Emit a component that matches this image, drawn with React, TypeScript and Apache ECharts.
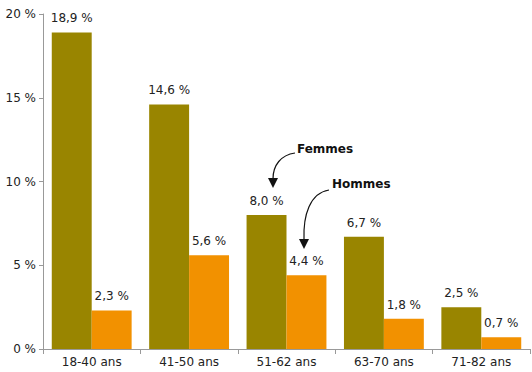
import React, { useEffect, useRef } from "react";
import * as echarts from "echarts";

const categories = ["18-40 ans", "41-50 ans", "51-62 ans", "63-70 ans", "71-82 ans"];
const femmes = [18.9, 14.6, 8.0, 6.7, 2.5];
const hommes = [2.3, 5.6, 4.4, 1.8, 0.7];
const yTicks = { min: 0, max: 20, interval: 5 };

const FONT = "DejaVu Sans";
const fmt = (v: number) => v.toFixed(1).replace(".", ",") + " %";

export default function App() {
  const ref = useRef<HTMLDivElement>(null);
  useEffect(() => {
    document.body.style.margin = "0";
    const chart = echarts.init(ref.current!, null, { renderer: "svg" });
    const labelStyle = {
      show: true,
      position: "top" as const,
      distance: 8,
      color: "#222",
      fontSize: 12,
      fontFamily: FONT,
      formatter: (p: any) => fmt(p.value),
    };
    chart.setOption({
      animation: false,
      textStyle: { fontFamily: FONT },
      grid: { left: 43, right: 2, top: 14, bottom: 23 },
      xAxis: {
        type: "category",
        data: categories,
        axisLine: { lineStyle: { color: "#999" } },
        axisTick: { show: true, length: 5, lineStyle: { color: "#999" } },
        axisLabel: { color: "#222", fontSize: 12, fontFamily: FONT, margin: 7 },
      },
      yAxis: {
        type: "value",
        min: yTicks.min,
        max: yTicks.max,
        interval: yTicks.interval,
        axisLine: { show: true, lineStyle: { color: "#999" } },
        axisTick: { show: true, length: 4, lineStyle: { color: "#999" } },
        splitLine: { show: false },
        axisLabel: { color: "#222", fontSize: 12, fontFamily: FONT, margin: 7, formatter: "{value} %" },
      },
      series: [
        {
          name: "Femmes",
          type: "bar",
          data: femmes,
          barGap: "0%",
          barCategoryGap: "18%",
          itemStyle: { color: "#998500" },
          label: labelStyle,
        },
        {
          name: "Hommes",
          type: "bar",
          data: hommes,
          itemStyle: { color: "#F29100" },
          label: labelStyle,
        },
      ],
      graphic: [
        {
          type: "text",
          left: 297,
          top: 143,
          style: { text: "Femmes", fill: "#111", font: `bold 12px "${FONT}"` },
        },
        {
          type: "bezierCurve",
          shape: { x1: 295, y1: 153, x2: 273, y2: 179, cpx1: 281, cpy1: 155, cpx2: 273, cpy2: 165 },
          style: { stroke: "#111", lineWidth: 1.2, fill: "none" },
        },
        {
          type: "polygon",
          shape: { points: [[268, 178], [278, 178], [273, 188]] },
          style: { fill: "#111" },
        },
        {
          type: "text",
          left: 332,
          top: 178,
          style: { text: "Hommes", fill: "#111", font: `bold 12px "${FONT}"` },
        },
        {
          type: "bezierCurve",
          shape: { x1: 329, y1: 190, x2: 304, y2: 240, cpx1: 310, cpy1: 193, cpx2: 303, cpy2: 215 },
          style: { stroke: "#111", lineWidth: 1.2, fill: "none" },
        },
        {
          type: "polygon",
          shape: { points: [[299, 239], [309, 239], [304, 249]] },
          style: { fill: "#111" },
        },
      ],
    });
    return () => chart.dispose();
  }, []);
  return <div ref={ref} style={{ width: 532, height: 372 }} />;
}
